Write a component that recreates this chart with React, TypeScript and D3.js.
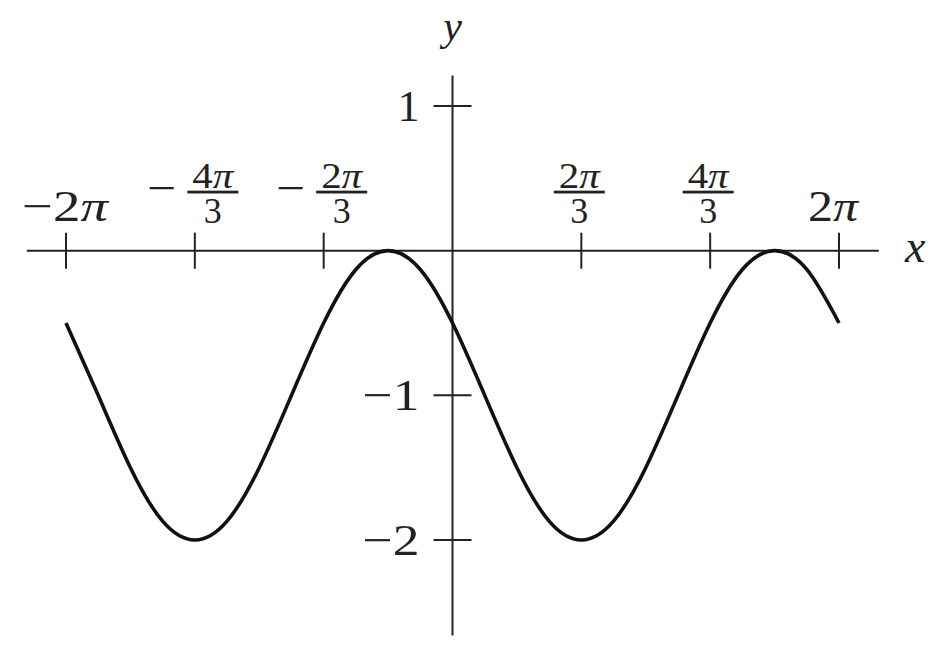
import { useEffect, useRef } from "react";
import * as d3 from "d3";

const PI = Math.PI;

// Curve samples, x in steps of π/6 from -2π to 2π
const CURVE_K = [
  -12, -11, -10, -9, -8, -7, -6, -5, -4, -3, -2, -1, 0, 1, 2, 3, 4, 5, 6, 7, 8,
  9, 10, 11, 12,
];
const CURVE_Y = [
  -0.5, -1, -1.5, -1.87, -2, -1.87, -1.5, -1, -0.5, -0.13, 0, -0.13, -0.5, -1,
  -1.5, -1.87, -2, -1.87, -1.5, -1, -0.5, -0.13, 0, -0.13, -0.5,
];

// x ticks (multiples of π/3) and their labels
const X_TICKS = [-6, -4, -2, 2, 4, 6];
const X_TICK_SIGN = [true, true, true, false, false, false];
const X_TICK_NUM = ["2", "4", "2", "2", "4", "2"];
const X_TICK_DEN = ["", "3", "3", "3", "3", ""];

// y ticks
const Y_TICKS = [1, -1, -2];
const Y_TICK_LABELS = ["1", "\u22121", "\u22122"];

const WIDTH = 940;
const HEIGHT = 645;
const FONT = "'Liberation Serif', 'DejaVu Serif', serif";
const INK = "#222";

export default function App() {
  const svgRef = useRef<SVGSVGElement | null>(null);

  useEffect(() => {
    if (!svgRef.current) return;
    const svg = d3.select(svgRef.current);
    svg.selectAll("*").remove();

    const x = d3.scaleLinear().domain([-2 * PI, 2 * PI]).range([66, 839]);
    const y = d3.scaleLinear().domain([-2, 1]).range([540, 106]);
    const x0 = x(0);
    const y0 = y(0);

    svg
      .append("rect")
      .attr("width", WIDTH)
      .attr("height", HEIGHT)
      .attr("fill", "#fff");

    // Axes lines
    svg
      .append("line")
      .attr("x1", x(-6.92))
      .attr("x2", x(6.93))
      .attr("y1", y0)
      .attr("y2", y0)
      .attr("stroke", INK)
      .attr("stroke-width", 2);
    svg
      .append("line")
      .attr("x1", x0)
      .attr("x2", x0)
      .attr("y1", y(1.21))
      .attr("y2", y(-2.66))
      .attr("stroke", INK)
      .attr("stroke-width", 2);

    // x ticks, crossing the axis
    svg
      .append("g")
      .selectAll("line")
      .data(X_TICKS)
      .join("line")
      .attr("x1", (d) => x((d * PI) / 3))
      .attr("x2", (d) => x((d * PI) / 3))
      .attr("y1", y0 - 18)
      .attr("y2", y0 + 18)
      .attr("stroke", INK)
      .attr("stroke-width", 2);

    // y ticks
    svg
      .append("g")
      .selectAll("line")
      .data(Y_TICKS)
      .join("line")
      .attr("x1", x0 - 19)
      .attr("x2", x0 + 19)
      .attr("y1", (d) => y(d))
      .attr("y2", (d) => y(d))
      .attr("stroke", INK)
      .attr("stroke-width", 2);

    // y tick labels (stretched a little to the wider TeX look)
    svg
      .append("g")
      .selectAll("text")
      .data(Y_TICKS)
      .join("text")
      .attr("x", x0 - 33)
      .attr("y", (d) => y(d) + 15)
      .attr("text-anchor", "end")
      .attr("font-family", FONT)
      .attr("font-size", 44)
      .attr("fill", INK)
      .attr("textLength", (_d, i) => (i === 0 ? null : 57))
      .attr("lengthAdjust", "spacingAndGlyphs")
      .text((_d, i) => Y_TICK_LABELS[i]);

    // x tick labels
    const labels = svg.append("g").attr("font-family", FONT).attr("fill", INK);
    X_TICKS.forEach((t, i) => {
      const tx = x((t * PI) / 3);
      const neg = X_TICK_SIGN[i];
      if (!X_TICK_DEN[i]) {
        const txt = labels
          .append("text")
          .attr("x", tx - (neg ? 1 : 6))
          .attr("y", y0 - 30)
          .attr("text-anchor", "middle")
          .attr("font-size", 44)
          .attr("textLength", neg ? 86 : 50)
          .attr("lengthAdjust", "spacingAndGlyphs");
        txt.append("tspan").text((neg ? "\u2212" : "") + X_TICK_NUM[i]);
        txt.append("tspan").attr("font-style", "italic").text("\u03c0");
        return;
      }
      // fraction
      const cx = neg ? tx + 18 : tx - 2;
      const barW = 51;
      if (neg) {
        labels
          .append("text")
          .attr("x", tx - 33)
          .attr("y", y0 - 48)
          .attr("text-anchor", "middle")
          .attr("font-size", 44)
          .attr("textLength", 29)
          .attr("lengthAdjust", "spacingAndGlyphs")
          .text("\u2212");
      }
      labels
        .append("rect")
        .attr("x", cx - barW / 2)
        .attr("y", y0 - 60)
        .attr("width", barW)
        .attr("height", 2.8)
        .attr("fill", INK);
      const num = labels
        .append("text")
        .attr("x", cx)
        .attr("y", y0 - 63)
        .attr("text-anchor", "middle")
        .attr("font-size", 36)
        .attr("textLength", 41)
        .attr("lengthAdjust", "spacingAndGlyphs");
      num.append("tspan").text(X_TICK_NUM[i]);
      num.append("tspan").attr("font-style", "italic").text("\u03c0");
      labels
        .append("text")
        .attr("x", cx)
        .attr("y", y0 - 28)
        .attr("text-anchor", "middle")
        .attr("font-size", 36)
        .text(X_TICK_DEN[i]);
    });

    // Axis names
    svg
      .append("text")
      .attr("x", 905)
      .attr("y", y0 + 11)
      .attr("font-family", FONT)
      .attr("font-style", "italic")
      .attr("font-size", 46)
      .attr("fill", INK)
      .text("x");
    svg
      .append("text")
      .attr("x", x0)
      .attr("y", 40)
      .attr("text-anchor", "middle")
      .attr("font-family", FONT)
      .attr("font-style", "italic")
      .attr("font-size", 42)
      .attr("fill", INK)
      .text("y");

    // Curve
    const pts: [number, number][] = CURVE_K.map((k, i) => [
      (k * PI) / 6,
      CURVE_Y[i],
    ]);
    const line = d3
      .line<[number, number]>()
      .x((d) => x(d[0]))
      .y((d) => y(d[1]))
      .curve(d3.curveNatural);
    svg
      .append("path")
      .attr("d", line(pts) ?? "")
      .attr("fill", "none")
      .attr("stroke", "#111")
      .attr("stroke-width", 3.6)
      .attr("stroke-linecap", "butt");
  }, []);

  return (
    <svg
      ref={svgRef}
      width={WIDTH}
      height={HEIGHT}
      style={{ position: "absolute", left: 0, top: 0, display: "block" }}
    />
  );
}
